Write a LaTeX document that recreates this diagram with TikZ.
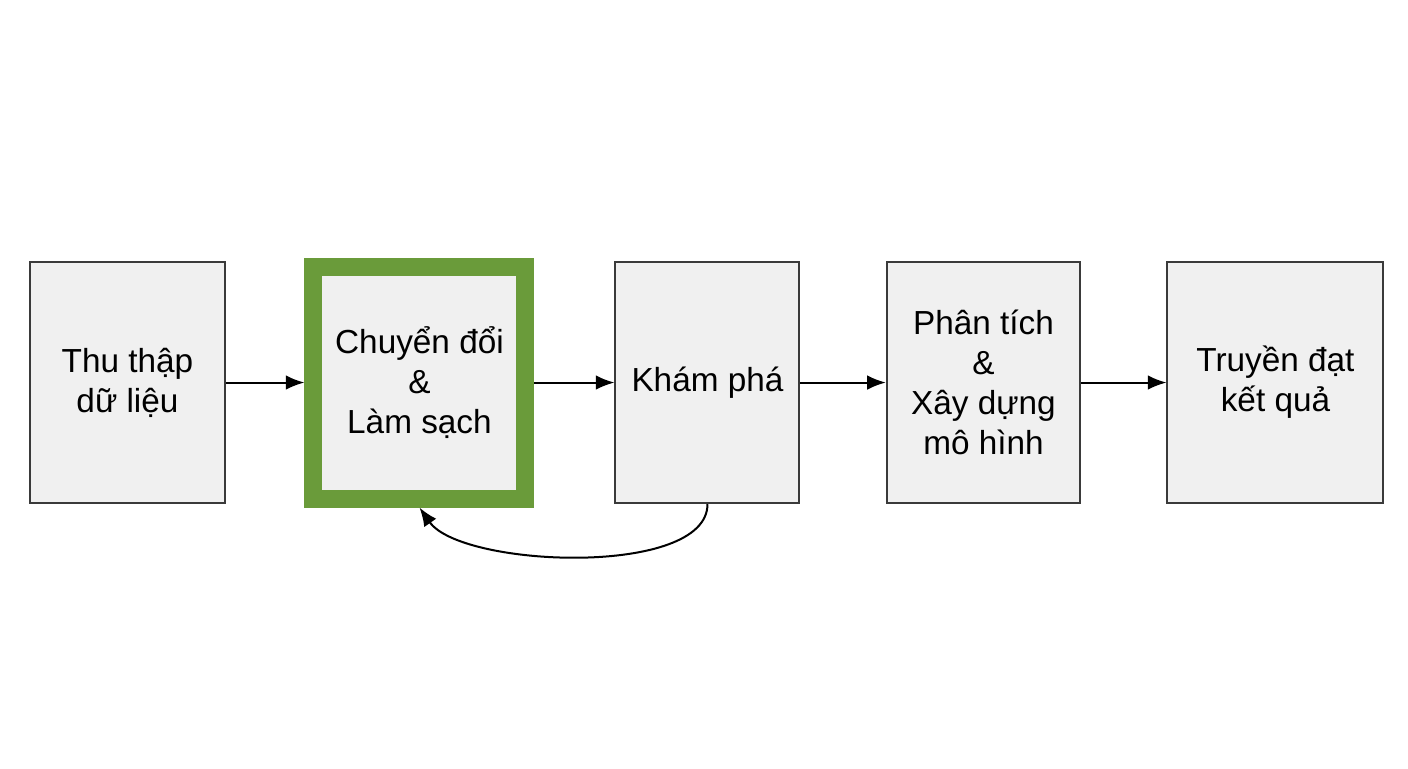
\documentclass[tikz,border=0pt]{standalone}
\usepackage{fontspec}
\setmainfont{Liberation Sans}
\usetikzlibrary{arrows.meta, positioning}
\definecolor{boxfill}{HTML}{F0F0F0}
\definecolor{boxline}{HTML}{3A3A3A}
\definecolor{hlgreen}{HTML}{6A9B3A}
\tikzstyle{stage} = [
  rectangle,
  minimum height=181pt,
  text centered,
  align=center,
  draw=boxline,
  line width=1.5pt,
  fill=boxfill,
  font=\fontsize{25}{30}\selectfont
]
\tikzstyle{current} = [
  stage,
  draw=hlgreen,
  line width=13.5pt,
  minimum height=174pt
]
\tikzstyle{arrow} = [line width=1.5pt, -{Latex[length=14pt,width=11pt]}]

\begin{document}
\begin{tikzpicture}
    \useasboundingbox (0,0) rectangle (1056pt,-576pt);
    \node (collect) [stage, minimum width=146pt] at (95.6pt,-286.9pt) {Thu thập\\dữ liệu};
    \node (clean) [current, minimum width=159pt, right=59pt of collect] {Chuyển đổi\\\&\\Làm sạch};
    \node (explore) [stage, minimum width=138pt, right=60pt of clean] {Khám phá};
    \node (model) [stage, minimum width=145pt, right=64pt of explore] {Phân tích\\\&\\Xây dựng\\mô hình};
    \node (report) [stage, minimum width=162pt, right=64pt of model] {Truyền đạt\\kết quả};

    \draw [arrow] (collect) -- (clean);
    \draw [arrow] (clean) -- (explore);
    \draw [arrow] (explore) -- (model);
    \draw [arrow] (model) -- (report);
    \draw [arrow] (explore.south) to[out=-90, in=-55, looseness=0.65] (clean.south);
\end{tikzpicture}
\end{document}
